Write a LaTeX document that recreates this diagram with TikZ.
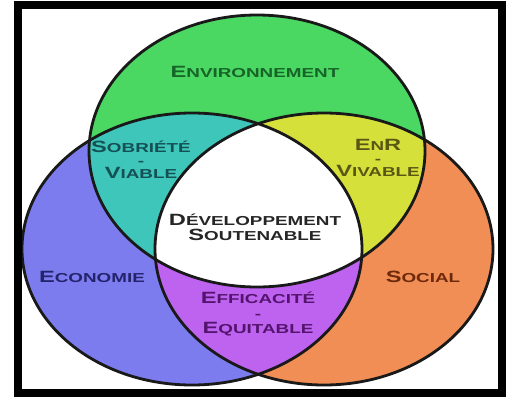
\documentclass[tikz,border=0pt]{standalone}
\usepackage{fontspec}
\newfontfamily\cpfont[FakeStretch=1.45]{Liberation Sans Bold}
\newcommand\cpw[2]{{\fontsize{16.3}{13}\selectfont #1}{\fontsize{13}{13}\selectfont #2}}
\definecolor{cgreen}{RGB}{74,216,98}
\definecolor{cblue}{RGB}{124,124,238}
\definecolor{corange}{RGB}{240,142,86}
\definecolor{ccyan}{RGB}{62,198,186}
\definecolor{cyellow}{RGB}{214,224,58}
\definecolor{cpurple}{RGB}{190,98,240}
\definecolor{tgreen}{RGB}{22,100,40}
\definecolor{tcyan}{RGB}{20,80,84}
\definecolor{tyellow}{RGB}{88,88,20}
\definecolor{tblue}{RGB}{36,36,110}
\definecolor{torange}{RGB}{110,40,10}
\definecolor{tpurple}{RGB}{84,20,110}
\tikzset{
  lbl/.style={inner sep=0pt, font=\cpfont\fontsize{13}{13}\selectfont, anchor=center, align=center},
  outline/.style={draw=black!90, line width=2.8pt}
}
\begin{document}
\begin{tikzpicture}[x=1pt,y=-1pt]
\useasboundingbox (0,0) rectangle (512,400);
\fill[white] (0,0) rectangle (512,400);
% base fills
\fill[cgreen] (257,151) ellipse [x radius=168, y radius=136];
\fill[cblue] (192,249) ellipse [x radius=170, y radius=136];
\fill[corange] (324,249) ellipse [x radius=169, y radius=136];
% pairwise intersections
\begin{scope}
  \clip (257,151) ellipse [x radius=168, y radius=136];
  \fill[ccyan] (192,249) ellipse [x radius=170, y radius=136];
  \fill[cyellow] (324,249) ellipse [x radius=169, y radius=136];
\end{scope}
\begin{scope}
  \clip (192,249) ellipse [x radius=170, y radius=136];
  \fill[cpurple] (324,249) ellipse [x radius=169, y radius=136];
  \clip (324,249) ellipse [x radius=169, y radius=136];
  \fill[white] (257,151) ellipse [x radius=168, y radius=136];
\end{scope}
% outlines
\draw[outline] (257,151) ellipse [x radius=168, y radius=136];
\draw[outline] (192,249) ellipse [x radius=170, y radius=136];
\draw[outline] (324,249) ellipse [x radius=169, y radius=136];
% frame
\draw[line width=8pt] (18,5) rectangle (502,393);
% labels
\node[lbl, text=tgreen] (env) at (255,72) {\cpw{E}{NVIRONNEMENT}};
\node[lbl, text=tcyan] (sob) at (141,160) {\cpw{S}{OBRIÉTÉ}\\[0pt]-\\[0pt]\cpw{V}{IABLE}};
\node[lbl, text=tyellow] (enr) at (378,158) {\cpw{E}{N}\cpw{R}{}\\[0pt]-\\[0pt]\cpw{V}{IVABLE}};
\node[lbl, text=black!85] (dev) at (255,227) {\cpw{D}{ÉVELOPPEMENT}\\[2pt]\cpw{S}{OUTENABLE}};
\node[lbl, text=tblue] (eco) at (92,277) {\cpw{E}{CONOMIE}};
\node[lbl, text=torange] (soc) at (423,277) {\cpw{S}{OCIAL}};
\node[lbl, text=tpurple] (eff) at (258,314) {\cpw{E}{FFICACITÉ}\\[2pt]-\\[2pt]\cpw{E}{QUITABLE}};
\end{tikzpicture}
\end{document}
